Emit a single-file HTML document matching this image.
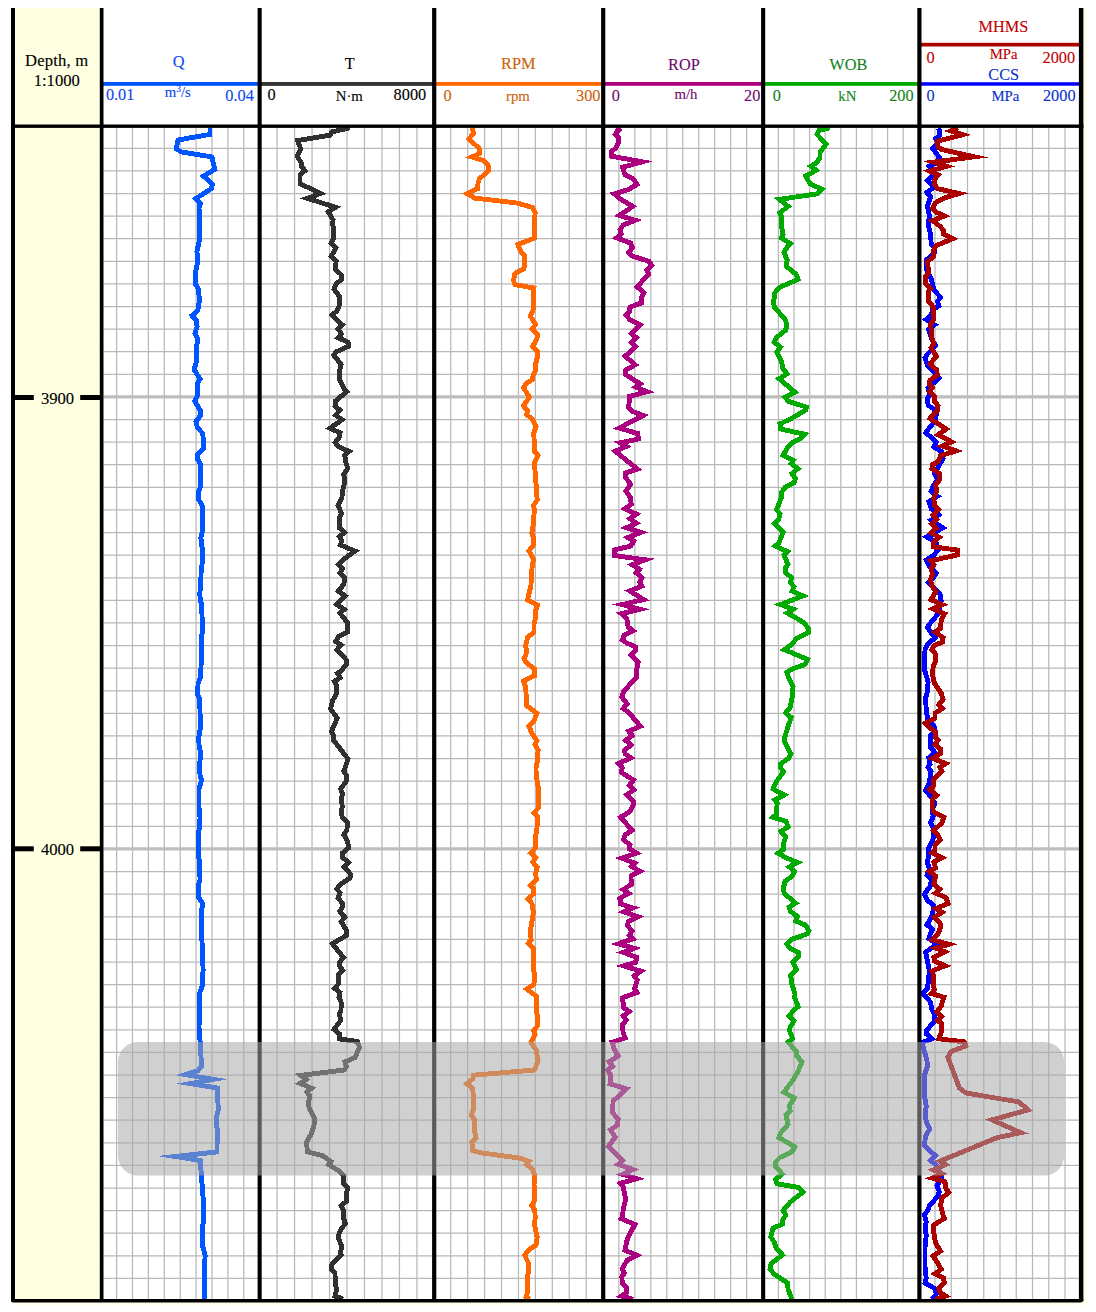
<!DOCTYPE html>
<html lang="en"><head><meta charset="utf-8"><title>Drilling log</title>
<style>html,body{margin:0;padding:0;background:#fff;}body{width:1096px;height:1312px;overflow:hidden;}svg{display:block;}text{font-family:"Liberation Serif",serif;}</style>
</head><body>
<svg width="1096" height="1312" viewBox="0 0 1096 1312">
<rect x="0" y="0" width="1096" height="1312" fill="#ffffff"/>
<rect x="11" y="8.0" width="1076" height="1297.0" fill="#ffffee"/>
<rect x="103.5" y="8.0" width="975.4000000000001" height="1291.0" fill="#ffffff"/>
<rect x="14.0" y="8.0" width="86.8" height="1292.0" fill="#ffffe1"/>
<g stroke="#b8b8b8" stroke-width="1.25" fill="none">
<line x1="116.60" y1="127.9" x2="116.60" y2="1299.0"/>
<line x1="132.50" y1="127.9" x2="132.50" y2="1299.0"/>
<line x1="148.40" y1="127.9" x2="148.40" y2="1299.0"/>
<line x1="164.30" y1="127.9" x2="164.30" y2="1299.0"/>
<line x1="180.20" y1="127.9" x2="180.20" y2="1299.0"/>
<line x1="196.10" y1="127.9" x2="196.10" y2="1299.0"/>
<line x1="212.00" y1="127.9" x2="212.00" y2="1299.0"/>
<line x1="227.90" y1="127.9" x2="227.90" y2="1299.0"/>
<line x1="243.80" y1="127.9" x2="243.80" y2="1299.0"/>
<line x1="277.08" y1="127.9" x2="277.08" y2="1299.0"/>
<line x1="294.56" y1="127.9" x2="294.56" y2="1299.0"/>
<line x1="312.04" y1="127.9" x2="312.04" y2="1299.0"/>
<line x1="329.52" y1="127.9" x2="329.52" y2="1299.0"/>
<line x1="347.00" y1="127.9" x2="347.00" y2="1299.0"/>
<line x1="364.48" y1="127.9" x2="364.48" y2="1299.0"/>
<line x1="381.96" y1="127.9" x2="381.96" y2="1299.0"/>
<line x1="399.44" y1="127.9" x2="399.44" y2="1299.0"/>
<line x1="416.92" y1="127.9" x2="416.92" y2="1299.0"/>
<line x1="450.73" y1="127.9" x2="450.73" y2="1299.0"/>
<line x1="467.66" y1="127.9" x2="467.66" y2="1299.0"/>
<line x1="484.59" y1="127.9" x2="484.59" y2="1299.0"/>
<line x1="501.52" y1="127.9" x2="501.52" y2="1299.0"/>
<line x1="518.45" y1="127.9" x2="518.45" y2="1299.0"/>
<line x1="535.38" y1="127.9" x2="535.38" y2="1299.0"/>
<line x1="552.31" y1="127.9" x2="552.31" y2="1299.0"/>
<line x1="569.24" y1="127.9" x2="569.24" y2="1299.0"/>
<line x1="586.17" y1="127.9" x2="586.17" y2="1299.0"/>
<line x1="618.87" y1="127.9" x2="618.87" y2="1299.0"/>
<line x1="634.84" y1="127.9" x2="634.84" y2="1299.0"/>
<line x1="650.81" y1="127.9" x2="650.81" y2="1299.0"/>
<line x1="666.78" y1="127.9" x2="666.78" y2="1299.0"/>
<line x1="682.75" y1="127.9" x2="682.75" y2="1299.0"/>
<line x1="698.72" y1="127.9" x2="698.72" y2="1299.0"/>
<line x1="714.69" y1="127.9" x2="714.69" y2="1299.0"/>
<line x1="730.66" y1="127.9" x2="730.66" y2="1299.0"/>
<line x1="746.63" y1="127.9" x2="746.63" y2="1299.0"/>
<line x1="778.40" y1="127.9" x2="778.40" y2="1299.0"/>
<line x1="794.00" y1="127.9" x2="794.00" y2="1299.0"/>
<line x1="809.60" y1="127.9" x2="809.60" y2="1299.0"/>
<line x1="825.20" y1="127.9" x2="825.20" y2="1299.0"/>
<line x1="840.80" y1="127.9" x2="840.80" y2="1299.0"/>
<line x1="856.40" y1="127.9" x2="856.40" y2="1299.0"/>
<line x1="872.00" y1="127.9" x2="872.00" y2="1299.0"/>
<line x1="887.60" y1="127.9" x2="887.60" y2="1299.0"/>
<line x1="903.20" y1="127.9" x2="903.20" y2="1299.0"/>
<line x1="935.00" y1="127.9" x2="935.00" y2="1299.0"/>
<line x1="951.25" y1="127.9" x2="951.25" y2="1299.0"/>
<line x1="967.50" y1="127.9" x2="967.50" y2="1299.0"/>
<line x1="983.75" y1="127.9" x2="983.75" y2="1299.0"/>
<line x1="1000.00" y1="127.9" x2="1000.00" y2="1299.0"/>
<line x1="1016.25" y1="127.9" x2="1016.25" y2="1299.0"/>
<line x1="1032.50" y1="127.9" x2="1032.50" y2="1299.0"/>
<line x1="1048.75" y1="127.9" x2="1048.75" y2="1299.0"/>
<line x1="1065.00" y1="127.9" x2="1065.00" y2="1299.0"/>
<line x1="103.5" y1="148.30" x2="1078.9" y2="148.30"/>
<line x1="103.5" y1="170.90" x2="1078.9" y2="170.90"/>
<line x1="103.5" y1="193.50" x2="1078.9" y2="193.50"/>
<line x1="103.5" y1="216.11" x2="1078.9" y2="216.11"/>
<line x1="103.5" y1="238.71" x2="1078.9" y2="238.71"/>
<line x1="103.5" y1="261.31" x2="1078.9" y2="261.31"/>
<line x1="103.5" y1="283.91" x2="1078.9" y2="283.91"/>
<line x1="103.5" y1="306.52" x2="1078.9" y2="306.52"/>
<line x1="103.5" y1="329.12" x2="1078.9" y2="329.12"/>
<line x1="103.5" y1="351.72" x2="1078.9" y2="351.72"/>
<line x1="103.5" y1="374.33" x2="1078.9" y2="374.33"/>
<line x1="103.5" y1="419.53" x2="1078.9" y2="419.53"/>
<line x1="103.5" y1="442.14" x2="1078.9" y2="442.14"/>
<line x1="103.5" y1="464.74" x2="1078.9" y2="464.74"/>
<line x1="103.5" y1="487.34" x2="1078.9" y2="487.34"/>
<line x1="103.5" y1="509.95" x2="1078.9" y2="509.95"/>
<line x1="103.5" y1="532.55" x2="1078.9" y2="532.55"/>
<line x1="103.5" y1="555.15" x2="1078.9" y2="555.15"/>
<line x1="103.5" y1="577.75" x2="1078.9" y2="577.75"/>
<line x1="103.5" y1="600.36" x2="1078.9" y2="600.36"/>
<line x1="103.5" y1="622.96" x2="1078.9" y2="622.96"/>
<line x1="103.5" y1="645.56" x2="1078.9" y2="645.56"/>
<line x1="103.5" y1="668.17" x2="1078.9" y2="668.17"/>
<line x1="103.5" y1="690.77" x2="1078.9" y2="690.77"/>
<line x1="103.5" y1="713.37" x2="1078.9" y2="713.37"/>
<line x1="103.5" y1="735.98" x2="1078.9" y2="735.98"/>
<line x1="103.5" y1="758.58" x2="1078.9" y2="758.58"/>
<line x1="103.5" y1="781.18" x2="1078.9" y2="781.18"/>
<line x1="103.5" y1="803.78" x2="1078.9" y2="803.78"/>
<line x1="103.5" y1="826.39" x2="1078.9" y2="826.39"/>
<line x1="103.5" y1="871.59" x2="1078.9" y2="871.59"/>
<line x1="103.5" y1="894.20" x2="1078.9" y2="894.20"/>
<line x1="103.5" y1="916.80" x2="1078.9" y2="916.80"/>
<line x1="103.5" y1="939.40" x2="1078.9" y2="939.40"/>
<line x1="103.5" y1="962.01" x2="1078.9" y2="962.01"/>
<line x1="103.5" y1="984.61" x2="1078.9" y2="984.61"/>
<line x1="103.5" y1="1007.21" x2="1078.9" y2="1007.21"/>
<line x1="103.5" y1="1029.81" x2="1078.9" y2="1029.81"/>
<line x1="103.5" y1="1052.42" x2="1078.9" y2="1052.42"/>
<line x1="103.5" y1="1075.02" x2="1078.9" y2="1075.02"/>
<line x1="103.5" y1="1097.62" x2="1078.9" y2="1097.62"/>
<line x1="103.5" y1="1120.23" x2="1078.9" y2="1120.23"/>
<line x1="103.5" y1="1142.83" x2="1078.9" y2="1142.83"/>
<line x1="103.5" y1="1165.43" x2="1078.9" y2="1165.43"/>
<line x1="103.5" y1="1188.04" x2="1078.9" y2="1188.04"/>
<line x1="103.5" y1="1210.64" x2="1078.9" y2="1210.64"/>
<line x1="103.5" y1="1233.24" x2="1078.9" y2="1233.24"/>
<line x1="103.5" y1="1255.84" x2="1078.9" y2="1255.84"/>
<line x1="103.5" y1="1278.45" x2="1078.9" y2="1278.45"/>
</g>
<g stroke="#bebebe" stroke-width="3.4" fill="none">
<line x1="103.5" y1="396.83" x2="1078.9" y2="396.83"/>
<line x1="103.5" y1="848.89" x2="1078.9" y2="848.89"/>
</g>
<g fill="none" stroke-linejoin="miter" stroke-miterlimit="14" stroke-linecap="butt" shape-rendering="crispEdges">
<polyline points="210.0,128.1 210.0,134.4 178.1,140.0 176.2,148.8 181.2,151.9 211.9,156.9 214.8,169.4 203.5,176.1 212.5,184.4 211.2,188.8 195.8,198.5 200.6,203.1 199.0,207.5 199.4,220.0 199.8,238.8 196.9,251.2 197.8,261.2 195.6,272.5 195.4,284.0 198.5,289.0 199.4,300.2 197.9,310.2 192.0,315.5 196.2,320.2 197.1,326.5 195.0,333.4 197.9,339.0 196.6,346.5 196.9,359.0 195.4,365.2 194.2,369.6 200.0,379.0 197.1,384.0 197.1,396.5 194.7,401.2 200.9,411.5 200.2,415.9 196.0,421.5 197.5,427.8 202.8,433.4 204.0,448.0 197.2,454.9 197.5,459.2 200.6,464.2 200.9,485.5 198.1,493.0 198.5,499.2 202.5,506.1 202.5,530.5 200.9,538.0 202.8,553.0 202.5,560.5 201.0,573.0 200.9,585.5 199.8,593.0 200.2,599.9 201.9,605.5 201.9,612.0 202.5,630.8 201.2,639.5 201.2,662.0 200.6,677.0 198.1,683.2 197.5,694.5 199.8,699.5 200.0,712.0 200.6,727.0 198.8,737.0 199.0,744.5 200.6,753.2 199.4,768.2 200.2,776.0 201.6,780.4 199.0,788.5 199.0,807.2 200.0,817.2 199.8,827.2 198.1,833.5 198.4,856.0 199.8,863.5 200.0,879.8 198.1,886.0 198.5,897.2 202.8,903.5 201.2,912.2 201.9,940.0 202.5,952.5 203.1,970.0 202.2,986.2 199.4,993.8 199.4,1015.0 199.0,1027.5 200.0,1040.0 201.2,1060.0 201.9,1065.6 198.1,1070.6 185.6,1074.6 213.3,1079.4 190.3,1083.6 217.5,1088.1 218.2,1110.0 216.2,1118.8 217.2,1130.0 217.0,1151.9 175.4,1156.5 200.2,1160.6 201.2,1173.0 203.1,1198.0 203.5,1220.5 202.2,1229.2 202.5,1245.5 205.2,1255.5 204.4,1268.0 204.4,1299.2" stroke="#0055ff" stroke-width="4.9"/>
<polyline points="350.0,127.8 331.9,131.9 330.0,135.2 297.7,140.5 300.6,148.8 297.2,156.6 301.2,162.5 301.2,166.2 305.0,170.6 300.0,175.0 300.0,182.5 300.1,183.7 320.6,193.5 307.3,198.3 335.5,207.3 328.3,211.8 333.1,220.0 332.5,223.8 333.8,228.8 333.8,237.5 331.0,243.1 335.9,247.9 331.2,256.4 336.2,261.2 335.2,268.8 341.5,275.0 341.5,279.4 336.2,284.0 334.0,289.0 339.8,297.1 339.4,305.2 336.9,310.9 331.8,315.1 342.2,324.7 338.1,329.0 341.5,334.0 338.1,337.8 348.1,342.1 348.6,346.3 335.6,352.1 333.8,355.2 341.2,364.6 339.4,371.5 339.4,379.0 343.8,388.4 346.6,391.8 335.6,400.9 335.0,405.9 340.0,410.2 335.6,415.2 342.2,419.7 329.9,428.3 340.0,432.8 339.4,437.1 335.2,442.5 338.5,446.5 349.1,451.4 344.8,455.2 345.6,461.8 347.8,468.6 343.8,474.2 344.8,481.8 342.5,491.1 341.9,498.0 338.1,505.5 341.5,513.6 339.4,518.0 339.4,528.0 344.4,532.4 339.4,536.8 341.9,541.1 340.2,544.8 355.0,551.1 343.8,559.2 338.5,564.2 342.5,568.6 340.0,573.0 344.8,578.0 343.8,584.2 338.3,591.2 345.2,595.9 336.9,604.5 344.2,609.5 340.0,613.2 347.5,622.6 347.5,632.0 338.8,636.4 335.6,641.4 341.2,645.1 336.9,649.6 346.5,660.1 346.2,664.5 341.2,670.8 337.5,673.2 340.0,677.6 334.4,681.4 336.5,685.8 336.2,694.5 332.5,700.8 330.6,708.9 337.2,718.3 331.5,731.3 333.8,735.8 333.5,740.1 347.9,758.8 346.2,764.5 343.8,771.4 346.9,776.0 346.5,781.0 340.6,789.1 342.5,793.5 341.5,798.5 342.2,807.2 341.2,813.5 342.5,817.9 347.5,822.2 346.9,829.8 343.8,834.8 347.5,841.0 348.8,847.9 342.5,852.9 342.2,857.2 348.7,862.4 343.8,867.0 350.6,874.1 350.0,877.9 340.0,884.8 336.9,889.1 340.0,892.9 338.1,897.9 342.5,903.5 342.5,906.6 339.8,911.4 344.8,917.2 341.2,921.6 346.5,930.4 346.5,935.4 332.4,943.8 343.4,957.5 339.4,962.5 340.0,966.9 342.7,970.4 338.1,975.0 338.5,983.8 334.6,988.4 340.0,992.5 339.0,997.5 341.2,1002.5 341.0,1010.0 339.4,1013.8 340.6,1020.6 334.0,1029.4 339.4,1033.8 339.4,1039.0 357.5,1041.5 359.5,1047.2 355.0,1057.5 345.0,1061.9 346.5,1066.9 343.8,1070.0 300.7,1075.4 306.3,1079.6 300.1,1083.4 311.5,1088.2 306.9,1091.9 309.8,1096.2 308.1,1105.0 314.8,1119.4 313.8,1126.2 311.2,1133.8 306.5,1142.5 307.5,1151.9 322.5,1155.6 330.9,1161.6 328.6,1164.7 337.5,1170.0 343.8,1175.6 343.8,1183.6 347.8,1188.0 346.2,1194.2 346.5,1201.1 341.2,1206.1 343.8,1210.5 343.5,1218.0 345.4,1223.3 340.0,1231.1 338.1,1236.8 341.8,1246.9 340.6,1251.3 341.1,1254.7 331.9,1264.2 331.2,1269.2 335.0,1273.0 335.2,1281.8 336.5,1290.5 335.0,1296.1 343.1,1299.0" stroke="#303030" stroke-width="4.9"/>
<polyline points="472.2,127.8 473.5,133.1 468.9,139.1 479.0,148.1 479.8,153.5 471.9,157.0 483.8,160.6 489.0,166.5 488.1,171.2 479.4,178.8 478.1,182.5 477.5,188.8 467.2,193.7 475.0,198.1 517.5,203.1 532.5,207.5 535.2,212.5 534.4,220.0 534.4,238.1 517.9,244.5 521.2,252.5 524.8,256.2 524.0,268.8 515.0,273.5 513.5,280.6 515.0,284.6 534.0,288.0 533.1,297.8 533.5,309.0 530.2,315.9 535.6,324.6 532.2,328.9 537.5,334.6 536.9,339.0 532.5,346.5 537.5,351.5 537.2,357.8 535.6,364.0 536.0,370.2 533.1,375.2 532.5,379.6 526.2,383.4 523.5,387.8 529.4,397.1 523.5,405.9 527.5,410.9 526.7,414.4 532.5,419.6 536.2,426.5 533.8,432.8 534.4,448.0 534.4,451.1 538.1,455.5 534.4,463.0 535.2,473.0 536.2,485.5 537.2,499.9 533.5,505.5 534.4,510.5 533.1,525.5 531.9,533.0 533.5,538.0 533.1,545.5 528.9,550.8 533.5,559.2 532.5,564.2 531.2,576.8 531.0,585.5 528.5,595.5 527.5,600.2 537.5,604.9 535.2,612.0 535.6,617.0 534.0,624.5 534.0,632.0 527.5,637.6 525.6,645.8 526.9,652.0 524.0,658.9 526.2,662.6 534.4,668.9 534.4,675.8 523.5,681.0 525.6,687.0 526.9,705.8 536.9,713.2 533.8,721.4 529.0,726.4 531.9,733.2 536.9,740.8 535.0,744.5 538.1,750.1 537.2,762.0 536.0,768.2 536.2,776.0 538.5,788.5 538.5,807.9 534.0,812.8 537.8,816.6 536.9,828.5 535.2,838.5 535.2,847.9 530.8,853.3 535.6,857.9 532.8,862.2 537.2,867.2 535.6,873.5 536.5,879.8 530.2,885.4 533.8,889.1 533.5,894.1 528.1,899.1 531.9,903.5 533.5,912.2 531.5,923.5 530.2,932.2 531.2,940.0 528.5,943.1 533.5,948.1 533.1,965.0 534.4,975.0 534.0,984.4 526.8,989.1 536.2,996.2 536.2,1008.8 537.5,1017.5 537.2,1026.2 533.5,1030.6 535.2,1034.4 531.0,1042.5 536.2,1050.0 538.1,1060.6 534.4,1070.0 473.5,1075.2 472.8,1078.8 466.8,1083.7 472.5,1088.1 473.5,1097.5 473.1,1110.0 471.2,1115.0 474.8,1120.0 474.4,1130.0 476.0,1138.1 471.9,1142.5 472.8,1150.6 482.5,1153.1 520.0,1158.1 529.0,1161.4 526.6,1164.4 532.5,1169.4 534.8,1175.6 534.0,1185.0 534.8,1191.2 534.4,1201.2 531.7,1205.6 534.8,1210.0 535.2,1218.0 534.4,1224.2 537.2,1237.4 536.0,1244.9 528.1,1250.5 524.8,1255.5 528.8,1263.6 528.1,1273.0 527.2,1283.0 527.5,1291.8 526.2,1296.8 529.4,1299.2" stroke="#ff6600" stroke-width="4.9"/>
<polyline points="616.9,127.8 619.0,130.2 615.3,134.2 618.8,137.5 618.1,143.1 615.6,148.1 611.2,151.9 611.2,156.2 642.2,161.8 622.5,167.3 625.0,175.0 633.1,178.8 636.9,184.4 628.8,189.4 614.3,193.9 620.0,198.8 632.7,206.4 619.4,215.4 635.1,220.3 623.1,225.0 620.0,230.0 621.2,233.8 616.6,237.9 630.6,243.1 632.5,247.5 628.8,252.5 632.5,256.2 648.8,261.2 651.8,265.7 646.8,270.5 648.6,274.0 637.2,286.9 643.8,292.7 641.9,296.5 641.9,302.8 630.0,307.1 629.4,312.1 626.0,315.2 630.0,319.6 640.2,324.9 631.2,333.4 636.5,337.8 631.4,342.7 635.7,346.5 625.2,356.2 635.2,364.8 625.6,370.2 625.6,374.6 640.3,383.9 635.7,387.1 647.2,391.7 629.4,396.5 628.8,407.8 632.5,411.5 643.3,415.4 619.1,428.1 637.5,433.4 638.5,439.0 620.2,442.8 626.4,446.4 615.3,451.2 625.0,459.2 637.4,469.0 625.6,473.0 625.6,477.4 630.6,484.2 626.0,491.1 630.6,498.0 631.2,504.2 624.9,508.8 636.4,514.1 629.9,518.6 636.4,523.2 626.6,527.7 640.9,532.5 627.8,537.5 633.8,541.1 630.6,546.1 614.4,549.9 614.4,555.5 645.3,559.8 632.3,564.8 639.4,569.2 636.2,572.8 641.9,578.0 639.8,582.4 641.9,586.1 629.8,591.0 643.7,599.5 622.1,604.6 640.0,609.2 621.3,613.8 626.9,618.8 628.1,626.9 633.0,630.8 624.4,635.0 622.2,640.0 626.9,643.1 635.6,646.9 635.6,650.6 631.2,655.0 638.1,662.5 636.5,671.2 636.9,677.5 631.2,683.1 623.8,691.2 621.9,696.9 624.0,700.0 627.3,703.9 623.1,708.4 628.8,712.5 640.4,726.3 628.8,731.2 632.2,735.6 625.7,740.3 630.8,745.0 624.8,750.4 625.0,753.8 630.8,757.8 618.7,763.5 622.2,767.6 621.5,772.6 633.5,780.1 629.4,785.1 633.8,789.8 626.8,794.8 633.8,802.0 633.1,805.8 629.4,812.0 620.6,817.3 632.0,830.3 625.0,835.1 623.5,839.5 630.0,845.1 629.4,848.9 636.6,853.2 621.7,858.2 635.0,863.2 631.7,866.5 639.9,871.2 631.0,875.8 631.2,884.5 623.3,889.6 628.8,893.5 619.8,898.2 620.6,903.9 632.9,907.9 623.9,911.9 638.0,916.8 628.1,921.5 627.8,925.9 632.0,931.1 629.4,935.2 632.8,938.9 618.4,943.8 634.1,948.3 623.3,952.4 636.2,957.1 636.0,962.1 623.7,965.9 640.9,971.1 634.1,975.8 637.3,980.1 634.6,988.7 636.9,992.5 622.5,997.8 623.8,1007.8 629.2,1011.5 623.2,1015.8 626.3,1020.1 622.5,1024.6 623.1,1032.8 625.2,1037.9 612.2,1042.2 614.0,1048.8 618.2,1056.0 609.2,1061.7 612.5,1066.2 607.8,1070.0 610.6,1075.0 610.0,1083.8 626.5,1088.8 613.1,1101.2 612.5,1112.5 618.1,1119.4 617.5,1125.0 610.6,1130.0 615.2,1137.3 608.5,1146.1 622.5,1160.5 618.2,1164.3 632.9,1169.6 622.5,1174.3 636.5,1178.7 620.4,1183.3 623.1,1186.8 625.6,1199.2 623.1,1210.5 622.5,1216.8 621.2,1218.7 635.0,1224.5 629.4,1234.2 626.9,1240.5 625.0,1250.3 637.2,1255.4 626.9,1260.5 622.2,1269.2 624.4,1272.9 621.9,1276.8 622.2,1283.0 626.9,1287.4 626.2,1293.0 621.5,1296.1 633.1,1299.2" stroke="#aa0080" stroke-width="4.9"/>
<polyline points="830.0,127.8 818.8,130.6 816.9,134.4 826.2,143.8 820.0,152.5 820.0,157.5 816.2,163.1 811.0,166.2 816.2,170.3 805.8,176.0 810.0,183.8 822.0,189.3 817.5,193.8 779.4,199.4 788.2,206.4 779.8,212.7 781.2,216.2 781.2,225.0 783.1,234.4 781.3,237.9 790.3,243.6 786.9,247.5 784.0,252.5 787.2,260.0 786.2,266.2 796.2,274.4 798.1,279.4 780.0,287.1 774.8,292.8 773.5,302.8 774.4,307.1 785.6,320.2 786.9,325.2 785.6,330.2 776.2,337.8 774.0,342.1 780.4,347.0 776.9,352.1 781.2,360.9 783.1,369.0 787.0,373.7 779.1,378.7 795.0,392.2 785.0,397.3 788.8,401.5 806.4,407.1 805.6,410.2 792.5,417.8 780.0,424.0 780.6,429.0 804.8,434.3 801.2,438.4 791.9,442.8 787.2,448.0 783.1,455.5 793.1,460.5 791.2,463.6 797.9,468.7 791.9,473.6 795.6,478.6 793.8,483.0 785.0,487.4 781.5,492.4 781.2,498.0 778.8,504.2 776.5,509.9 780.0,513.6 778.8,519.2 774.2,523.6 783.1,532.4 778.8,543.0 775.4,545.9 787.2,551.5 784.0,554.9 787.8,564.2 785.0,568.6 785.6,573.0 791.5,577.4 790.6,582.4 793.8,586.8 792.2,591.1 803.0,595.9 780.7,604.5 793.3,609.2 787.3,613.0 797.5,618.8 804.4,623.1 808.1,628.1 808.1,632.5 796.2,638.8 791.9,644.4 784.4,649.7 807.6,659.4 805.0,664.4 791.2,669.4 786.9,672.5 788.8,678.1 793.1,686.2 792.5,696.2 790.0,707.5 785.7,712.8 791.2,717.5 788.1,726.2 784.0,740.0 788.1,748.8 791.0,753.9 788.8,758.2 780.6,763.9 780.6,767.6 783.5,771.9 776.9,780.8 773.0,789.0 784.4,794.8 774.7,800.0 777.2,803.2 776.2,814.5 773.1,817.2 786.2,821.4 788.1,827.0 780.9,831.4 785.6,837.0 783.1,845.1 783.1,849.5 778.1,853.2 786.9,858.2 797.8,862.5 789.3,866.9 794.4,871.4 791.9,876.4 785.0,881.4 783.8,886.4 784.0,893.2 795.6,903.2 789.0,907.1 790.6,911.5 797.5,916.5 795.6,920.9 805.6,925.2 809.0,930.9 807.2,934.0 792.5,939.0 786.9,944.0 790.0,948.4 798.8,952.8 798.1,957.1 792.8,962.1 796.7,969.7 790.6,975.2 791.9,984.0 795.0,994.0 794.8,997.8 798.1,1006.5 792.8,1011.5 789.0,1015.9 793.8,1020.9 790.0,1027.8 789.8,1031.5 792.5,1038.4 788.1,1042.1 796.9,1052.1 796.9,1055.9 801.9,1062.1 798.1,1071.2 793.1,1080.0 783.7,1092.3 794.4,1097.8 789.4,1105.6 790.2,1110.6 786.0,1115.0 788.1,1124.4 780.6,1133.1 778.8,1137.5 795.0,1146.9 791.9,1151.9 780.0,1157.5 775.0,1162.5 775.6,1166.2 782.4,1174.0 775.4,1179.4 776.9,1183.8 798.8,1187.5 802.9,1192.2 790.6,1201.8 783.1,1210.5 785.7,1214.9 782.5,1220.5 782.5,1224.2 773.1,1228.0 770.8,1236.9 774.4,1242.4 776.2,1248.0 782.4,1254.9 771.2,1263.6 770.0,1269.2 774.4,1274.2 787.5,1283.0 788.1,1289.2 791.9,1299.2" stroke="#00aa00" stroke-width="4.9"/>
<polyline points="938.1,128.1 940.0,130.6 939.8,135.0 935.6,138.8 937.5,143.1 932.5,148.1 939.4,157.5 936.2,162.5 929.4,166.2 933.8,170.0 932.5,175.0 927.5,180.6 933.8,187.5 926.9,192.5 930.6,196.9 927.5,206.2 929.4,216.2 928.1,223.8 930.6,235.0 931.2,243.8 935.0,247.5 935.0,252.5 926.2,260.0 926.9,270.0 931.2,278.8 932.5,284.0 933.8,290.2 940.6,297.1 937.5,301.5 938.9,306.0 932.5,309.6 931.2,315.2 926.1,319.4 934.5,324.8 928.5,329.3 931.2,337.8 935.6,345.9 927.5,354.0 925.0,357.8 927.5,365.2 933.8,371.5 938.8,377.8 933.8,382.8 928.1,387.8 930.0,394.0 927.5,399.0 928.1,405.2 933.8,409.0 936.2,414.0 935.6,420.2 929.4,427.8 925.8,432.7 936.2,441.9 933.8,446.9 941.9,451.9 943.1,458.1 938.8,466.2 934.4,473.1 937.5,479.4 932.5,487.5 931.2,491.2 937.5,496.2 928.9,501.7 931.2,508.8 938.8,515.0 931.2,520.0 942.9,527.9 926.8,536.9 936.2,542.5 938.1,550.0 933.8,555.0 926.3,560.2 930.0,567.5 936.2,573.0 933.8,576.9 928.1,582.5 940.0,593.9 941.2,600.8 938.8,613.2 931.2,622.0 927.4,627.3 934.9,637.9 928.1,643.9 925.0,649.5 924.4,669.5 928.1,682.0 927.5,690.8 925.6,698.2 926.2,709.5 927.5,718.2 934.4,727.0 933.8,732.0 930.6,735.8 930.0,746.5 935.0,752.8 928.8,757.8 930.0,764.0 928.1,767.1 931.2,771.5 928.8,784.0 925.6,790.2 932.5,799.0 934.8,803.5 932.5,809.0 933.1,816.5 930.6,822.8 933.8,829.0 933.1,839.0 928.1,849.4 928.8,854.0 927.5,862.8 929.4,869.0 926.9,875.2 931.9,879.0 930.0,886.5 924.4,894.1 927.5,900.4 933.8,905.4 932.5,914.8 930.0,919.8 927.0,924.8 932.5,929.1 930.0,934.8 928.8,938.5 936.9,944.1 925.6,952.2 927.5,961.0 929.4,971.0 928.1,983.5 927.5,988.5 922.5,993.5 930.6,1002.2 931.9,1009.8 935.0,1016.0 933.8,1022.2 926.9,1030.0 926.2,1033.8 931.9,1038.8 921.9,1042.5 926.9,1060.0 927.5,1066.2 924.4,1075.0 924.4,1095.0 926.2,1106.2 925.0,1116.2 926.9,1123.8 929.8,1128.8 925.6,1136.2 924.4,1145.0 928.8,1150.0 935.7,1155.7 930.6,1160.5 937.5,1166.2 941.9,1178.8 936.9,1185.5 939.4,1191.8 937.5,1196.8 929.4,1205.5 928.1,1209.9 924.4,1214.9 926.2,1221.8 925.0,1228.0 926.2,1235.5 925.0,1248.0 925.0,1266.8 926.2,1278.0 925.0,1283.0 935.0,1288.6 936.2,1294.2 931.9,1299.0" stroke="#0000ff" stroke-width="4.9"/>
<polyline points="958.1,127.8 950.9,130.8 962.7,134.7 937.4,141.2 938.1,146.9 941.2,149.4 974.2,156.8 933.9,162.1 946.5,166.3 929.6,171.1 938.1,175.0 935.0,178.8 934.8,185.0 938.1,188.8 959.1,193.5 943.8,198.1 935.0,203.1 932.5,208.1 935.6,211.9 944.4,216.0 932.5,220.7 940.0,226.2 943.1,230.0 943.1,233.8 952.9,238.6 935.6,245.9 933.8,250.0 933.1,257.5 927.5,261.2 928.1,267.5 929.0,272.5 925.6,276.2 925.6,284.0 930.6,288.4 928.1,291.5 928.8,301.5 933.8,307.8 934.0,319.0 930.6,324.0 931.9,337.8 933.8,344.0 931.2,347.8 936.4,356.3 930.0,364.0 936.9,370.2 937.2,375.2 930.0,380.2 929.4,384.0 932.5,387.8 929.4,391.5 934.4,396.5 934.8,401.5 938.1,405.9 937.5,410.2 930.0,418.5 946.2,429.1 937.9,434.9 951.6,441.8 942.2,446.0 956.0,450.9 940.6,455.6 938.1,461.9 932.5,464.4 931.9,468.8 940.0,473.8 939.8,479.4 935.6,485.0 936.9,491.2 933.8,497.5 934.4,505.0 938.4,509.3 932.8,514.9 936.9,519.4 931.7,523.9 936.2,528.4 931.2,533.1 939.4,537.2 933.1,542.5 933.1,546.9 957.5,550.0 957.2,555.0 930.4,560.8 934.0,564.6 931.2,568.1 932.5,573.8 930.6,580.0 931.9,585.8 935.8,591.8 931.0,599.6 942.4,604.7 933.0,608.8 944.6,613.8 941.2,619.5 940.6,628.2 935.0,632.0 943.1,637.6 942.5,642.0 933.8,645.8 931.9,650.1 936.0,654.5 935.6,660.8 933.1,667.0 932.5,674.5 934.4,683.2 941.2,693.2 943.1,699.5 938.6,704.9 942.3,708.5 935.0,713.2 935.0,718.2 925.3,723.3 928.8,727.0 935.6,732.0 935.0,737.0 937.9,740.2 935.0,744.6 940.6,749.0 940.6,753.4 932.5,758.4 945.8,763.5 940.0,767.1 941.9,771.5 933.8,779.0 933.1,786.5 929.8,789.6 936.5,795.1 932.5,799.0 933.1,811.5 943.8,817.1 941.9,822.8 933.7,830.6 938.1,835.2 940.0,839.6 935.0,844.6 935.0,849.6 932.1,852.9 942.2,857.8 933.8,862.1 935.6,867.8 929.4,871.5 935.6,875.9 933.8,884.0 939.8,889.2 935.6,893.0 946.2,897.9 948.1,903.5 936.0,908.6 942.2,912.3 934.5,917.1 940.0,922.9 940.6,927.2 938.1,933.5 932.5,939.8 948.8,944.3 936.0,948.2 944.7,951.8 933.8,957.2 934.4,961.0 945.2,965.8 931.9,971.0 933.8,976.0 933.1,983.5 934.4,989.8 931.2,993.5 943.8,997.2 941.2,1006.0 937.0,1012.0 941.5,1016.3 937.5,1020.4 941.9,1023.8 941.2,1032.5 938.8,1038.8 964.4,1041.9 965.9,1045.8 951.2,1051.5 947.8,1057.2 959.4,1088.1 966.2,1093.1 1018.8,1101.9 1028.1,1109.9 992.0,1119.9 1020.8,1132.7 997.5,1137.5 940.2,1161.1 945.5,1164.6 933.5,1169.8 941.9,1173.7 932.1,1178.1 945.0,1181.8 945.6,1188.0 948.8,1192.4 941.9,1198.0 940.6,1205.5 943.1,1215.5 944.3,1218.5 933.9,1225.0 933.8,1233.0 935.6,1243.0 940.6,1251.1 933.1,1256.0 936.9,1261.8 941.2,1269.2 935.0,1273.6 943.5,1278.0 944.4,1282.4 938.8,1288.0 939.4,1291.8 945.7,1296.0 935.6,1299.2" stroke="#aa0000" stroke-width="4.9"/>
</g>
<rect x="102.5" y="82" width="156.10000000000002" height="3.799999999999997" fill="#0055ff"/>
<rect x="260.7" y="82" width="172.40000000000003" height="3.9000000000000057" fill="#333333"/>
<rect x="435.3" y="82" width="166.8" height="3.799999999999997" fill="#ff6600"/>
<rect x="604.3" y="82" width="157.80000000000007" height="3.799999999999997" fill="#aa0080"/>
<rect x="764.2" y="82" width="154.0999999999999" height="3.799999999999997" fill="#00aa00"/>
<rect x="920.5" y="42.8" width="159.4000000000001" height="3.700000000000003" fill="#aa0000"/>
<rect x="920.5" y="82.2" width="159.4000000000001" height="3.5" fill="#0000ff"/>
<g fill="#000000">
<rect x="11.0" y="8.0" width="4.00" height="1293.10"/>
<rect x="99.8" y="8.0" width="3.70" height="1293.10"/>
<rect x="257.6" y="8.0" width="4.10" height="1293.10"/>
<rect x="432.1" y="8.0" width="4.20" height="1293.10"/>
<rect x="601.1" y="8.0" width="4.20" height="1293.10"/>
<rect x="761.1" y="8.0" width="4.10" height="1293.10"/>
<rect x="917.3" y="8.0" width="4.20" height="1293.10"/>
<rect x="1078.9" y="8.0" width="4.50" height="1293.10"/>
<rect x="11.0" y="124.5" width="1072.40" height="3.40"/>
<path d="M11.0 1299.0 H1083.4 V1299.6 Q1083.4 1302.6 1080.4 1302.6 H13.0 Q11.0 1302.6 11.0 1300.6 Z"/>
<rect x="14.0" y="395.0" width="19.799999999999997" height="5"/>
<rect x="80.2" y="395.0" width="20.60" height="5"/>
<rect x="14.0" y="846.3" width="19.799999999999997" height="5"/>
<rect x="80.2" y="846.3" width="20.60" height="5"/>
</g>
<rect x="118.0" y="1041.9" width="946.2" height="133.7" rx="20" ry="20" fill="rgba(168,168,168,0.54)"/>
<text x="56.65" y="66.00" font-size="16.6" fill="#000000" stroke="#000000" stroke-width="0.12" text-anchor="middle" letter-spacing="0.2">Depth, m</text>
<text x="56.75" y="86.00" font-size="16.6" fill="#000000" stroke="#000000" stroke-width="0.12" text-anchor="middle" >1:1000</text>
<text x="57.50" y="404.20" font-size="16.6" fill="#000000" stroke="#000000" stroke-width="0.12" text-anchor="middle" >3900</text>
<text x="57.50" y="855.00" font-size="16.6" fill="#000000" stroke="#000000" stroke-width="0.12" text-anchor="middle" >4000</text>
<text x="178.70" y="67.00" font-size="16.3" fill="#0c48ee" stroke="#0c48ee" stroke-width="0.12" text-anchor="middle" >Q</text>
<text x="120.15" y="99.80" font-size="16.3" fill="#0c48ee" stroke="#0c48ee" stroke-width="0.12" text-anchor="middle" >0.01</text>
<text x="177.70" y="96.80" font-size="14.8" fill="#0c48ee" stroke="#0c48ee" stroke-width="0.12" text-anchor="middle" >m<tspan font-size="9.5" dy="-5.2">3</tspan><tspan dy="5.2">/s</tspan></text>
<text x="239.60" y="101.20" font-size="16.3" fill="#0c48ee" stroke="#0c48ee" stroke-width="0.12" text-anchor="middle" >0.04</text>
<text x="349.75" y="68.80" font-size="16.3" fill="#000000" stroke="#000000" stroke-width="0.12" text-anchor="middle" >T</text>
<text x="271.55" y="99.80" font-size="16.3" fill="#000000" stroke="#000000" stroke-width="0.12" text-anchor="middle" >0</text>
<text x="349.30" y="101.00" font-size="14.8" fill="#000000" stroke="#000000" stroke-width="0.12" text-anchor="middle" >N·m</text>
<text x="409.90" y="99.90" font-size="16.3" fill="#000000" stroke="#000000" stroke-width="0.12" text-anchor="middle" >8000</text>
<text x="518.25" y="68.80" font-size="16.3" fill="#cc5f0a" stroke="#cc5f0a" stroke-width="0.12" text-anchor="middle" >RPM</text>
<text x="447.50" y="100.50" font-size="16.3" fill="#cc5f0a" stroke="#cc5f0a" stroke-width="0.12" text-anchor="middle" >0</text>
<text x="517.90" y="100.50" font-size="14.8" fill="#cc5f0a" stroke="#cc5f0a" stroke-width="0.12" text-anchor="middle" >rpm</text>
<text x="588.20" y="100.50" font-size="16.3" fill="#cc5f0a" stroke="#cc5f0a" stroke-width="0.12" text-anchor="middle" >300</text>
<text x="683.95" y="70.00" font-size="16.3" fill="#6e0a6e" stroke="#6e0a6e" stroke-width="0.12" text-anchor="middle" >ROP</text>
<text x="615.75" y="100.50" font-size="16.3" fill="#6e0a6e" stroke="#6e0a6e" stroke-width="0.12" text-anchor="middle" >0</text>
<text x="685.90" y="99.20" font-size="14.8" fill="#6e0a6e" stroke="#6e0a6e" stroke-width="0.12" text-anchor="middle" >m/h</text>
<text x="752.25" y="100.50" font-size="16.3" fill="#6e0a6e" stroke="#6e0a6e" stroke-width="0.12" text-anchor="middle" >20</text>
<text x="848.35" y="70.20" font-size="16.3" fill="#14821e" stroke="#14821e" stroke-width="0.12" text-anchor="middle" >WOB</text>
<text x="776.80" y="100.50" font-size="16.3" fill="#14821e" stroke="#14821e" stroke-width="0.12" text-anchor="middle" >0</text>
<text x="847.30" y="100.50" font-size="14.8" fill="#14821e" stroke="#14821e" stroke-width="0.12" text-anchor="middle" >kN</text>
<text x="901.40" y="100.50" font-size="16.3" fill="#14821e" stroke="#14821e" stroke-width="0.12" text-anchor="middle" >200</text>
<text x="1003.35" y="31.80" font-size="16.3" fill="#c00000" stroke="#c00000" stroke-width="0.12" text-anchor="middle" >MHMS</text>
<text x="930.55" y="63.00" font-size="16.3" fill="#c00000" stroke="#c00000" stroke-width="0.12" text-anchor="middle" >0</text>
<text x="1003.70" y="59.00" font-size="14.8" fill="#c00000" stroke="#c00000" stroke-width="0.12" text-anchor="middle" >MPa</text>
<text x="1058.85" y="63.00" font-size="16.3" fill="#c00000" stroke="#c00000" stroke-width="0.12" text-anchor="middle" >2000</text>
<text x="1003.70" y="79.70" font-size="16.3" fill="#0a32c8" stroke="#0a32c8" stroke-width="0.12" text-anchor="middle" >CCS</text>
<text x="930.55" y="100.90" font-size="16.3" fill="#0a32c8" stroke="#0a32c8" stroke-width="0.12" text-anchor="middle" >0</text>
<text x="1005.45" y="100.90" font-size="14.8" fill="#0a32c8" stroke="#0a32c8" stroke-width="0.12" text-anchor="middle" >MPa</text>
<text x="1059.25" y="100.90" font-size="16.3" fill="#0a32c8" stroke="#0a32c8" stroke-width="0.12" text-anchor="middle" >2000</text>
</svg>
</body></html>
